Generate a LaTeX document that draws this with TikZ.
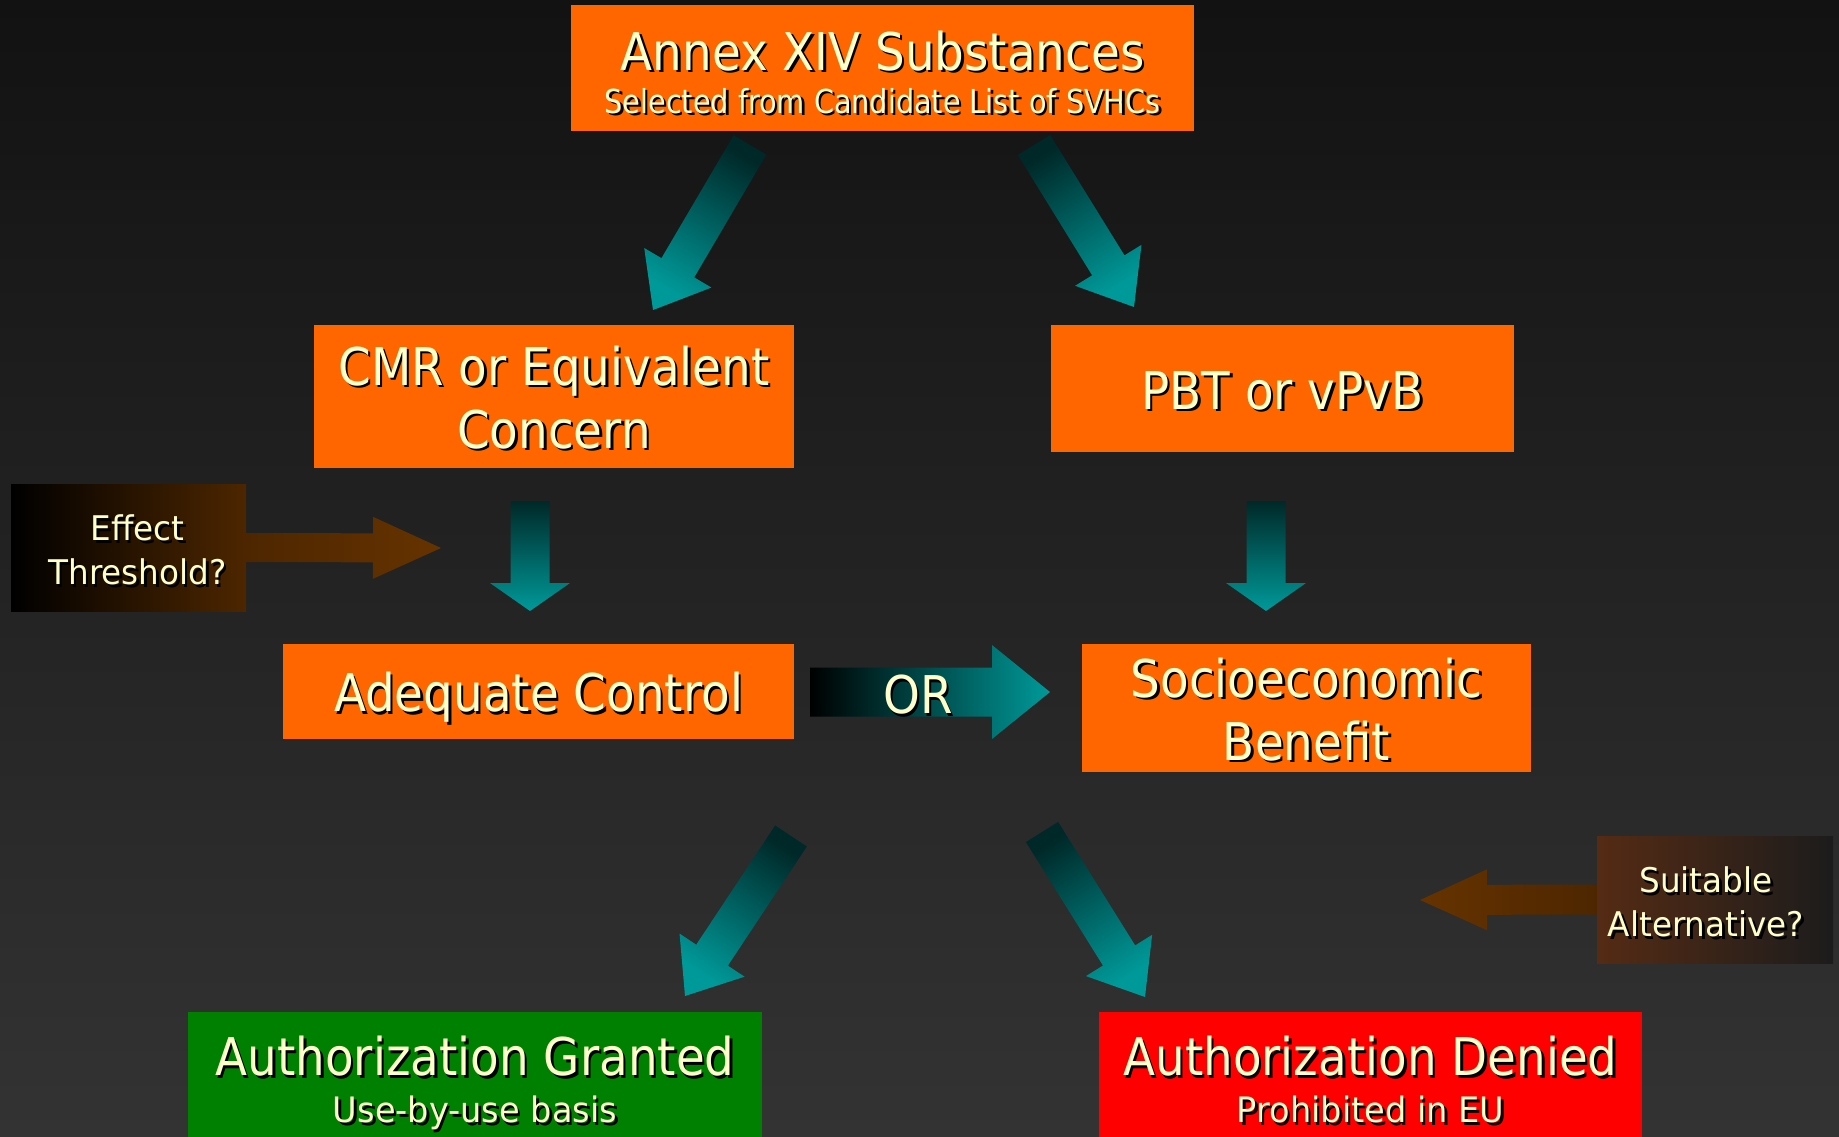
\documentclass[tikz,border=0pt]{standalone}
\usepackage{fontspec}
\setmainfont[FakeStretch=0.96]{DejaVu Sans}
\newfontfamily\condfont[FakeStretch=0.9]{DejaVu Sans}
\newfontfamily\narrowfont[FakeStretch=0.87]{DejaVu Sans}
\usetikzlibrary{calc}

\definecolor{bgtop}{RGB}{18,18,18}
\definecolor{bgbot}{RGB}{51,51,51}
\definecolor{boxorange}{RGB}{255,102,0}
\definecolor{boxgreen}{RGB}{0,128,0}
\definecolor{boxred}{RGB}{255,0,0}
\definecolor{cream}{RGB}{255,255,204}
\definecolor{tealdark}{RGB}{0,40,40}
\definecolor{teallight}{RGB}{0,153,153}
\definecolor{browndark}{RGB}{77,38,0}
\definecolor{brownlight}{RGB}{102,51,0}

% text with a small black drop shadow
\newcommand{\shtxt}[1]{\rlap{\kern2.5pt\raisebox{-2.5pt}{\color{black}#1}}#1}
\newcommand{\subfont}{\narrowfont\fontsize{33}{43}\selectfont}
\newcommand{\lowfont}{\rmfamily\fontsize{35}{45}\selectfont}
% struts and side padding to nudge the text inside the boxes
\newcommand{\tpad}[1]{\rule{0pt}{#1}}
\newcommand{\pad}{\hbox to 18pt{}}

% block arrow: style, tail, tip, half shaft, half head, head length
\newcommand{\blockarrow}[6]{%
  \coordinate (ab) at ($(#3)!#6!(#2)$);
  \shade[#1] ($(#2)!#4!90:(#3)$) -- ($(ab)!#4!90:(#3)$) -- ($(ab)!#5!90:(#3)$) -- (#3)
    -- ($(ab)!#5!-90:(#3)$) -- ($(ab)!#4!-90:(#3)$) -- ($(#2)!#4!-90:(#3)$) -- cycle;
}

\tikzset{
  bigtext/.style={font=\condfont\fontsize{52}{63}\selectfont},
  smalltext/.style={font=\fontsize{34}{44}\selectfont},
  obox/.style={rectangle, fill=boxorange, text=cream, align=center, inner sep=0pt, bigtext},
  gbox/.style={obox, fill=boxgreen},
  rbox/.style={obox, fill=boxred},
  tealarrow/.style={bottom color=tealdark, top color=teallight},
  brownarrow/.style={bottom color=browndark, top color=brownlight}
}

\begin{document}
\begin{tikzpicture}[x=1pt, y=-1pt]
    \useasboundingbox (0,0) rectangle (1839,1137);
    \shade[top color=bgtop, bottom color=bgbot] (0,0) rectangle (1839,1137);

    \node (annex)[obox, minimum width=623, minimum height=126] at (882.5, 68) {\tpad{50pt}\shtxt{Annex XIV Substances}\\[-20pt]{\subfont\shtxt{Selected from Candidate List of SVHCs}}};
    \node (cmr)[obox, minimum width=480, minimum height=143] at (554, 396.5) {\tpad{44pt}\shtxt{CMR or Equivalent}\\\shtxt{Concern}};
    \node (pbt)[obox, minimum width=463, minimum height=127] at (1282.5, 388.5) {\tpad{45pt}\shtxt{PBT or vPvB}};
    \node (control)[obox, minimum width=511, minimum height=95] at (538.5, 691.5) {\tpad{53.5pt}\shtxt{Adequate Control}};
    \node (benefit)[obox, minimum width=449, minimum height=128] at (1306.5, 708) {\tpad{44.5pt}\shtxt{Socioeconomic}\\\shtxt{Benefit}};
    \node (granted)[gbox, minimum width=574, minimum height=140] at (475, 1082) {\tpad{44pt}\shtxt{Authorization Granted}\\[-16pt]{\lowfont\shtxt{Use-by-use basis}}};
    \node (denied)[rbox, minimum width=543, minimum height=140] at (1370.5, 1082) {\tpad{44pt}\shtxt{Authorization Denied}\\[-16pt]{\lowfont\shtxt{Prohibited in EU\vphantom{y}}}};

    \node (effect)[rectangle, left color=black, right color=browndark, text=cream, align=center, smalltext, minimum width=235, minimum height=127] at (128.5, 547.5) {\pad\tpad{33pt}\shtxt{Effect}\\\pad\shtxt{Threshold?}};
    \node (suitable)[rectangle, left color={rgb,255:red,85;green,43;blue,20}, right color={rgb,255:red,28;green,28;blue,28}, text=cream, align=center, smalltext, minimum width=236, minimum height=127] at (1715, 899.5) {\tpad{33pt}\shtxt{Suitable}\pad\\\shtxt{Alternative?}\pad};

    \coordinate (a1s) at (750, 145);
    \coordinate (a1e) at (653, 310);
    \coordinate (a2s) at (1034, 145);
    \coordinate (a2e) at (1134, 307);
    \coordinate (a3s) at (530, 501);
    \coordinate (a3e) at (530, 611);
    \coordinate (a4s) at (1266, 501);
    \coordinate (a4e) at (1266, 611);
    \coordinate (ors) at (810, 692);
    \coordinate (ore) at (1050, 692);
    \coordinate (a5s) at (791, 836);
    \coordinate (a5e) at (685, 996);
    \coordinate (a6s) at (1042, 832);
    \coordinate (a6e) at (1145, 997);
    \coordinate (efe) at (441, 548);
    \coordinate (sue) at (1420, 900);

    \blockarrow{tealarrow, shading angle=149.5}{a1s}{a1e}{19pt}{39pt}{49pt}
    \blockarrow{tealarrow, shading angle=211.7}{a2s}{a2e}{19pt}{39pt}{49pt}
    \blockarrow{tealarrow, shading angle=180}{a3s}{a3e}{19.5pt}{40pt}{28pt}
    \blockarrow{tealarrow, shading angle=180}{a4s}{a4e}{19.5pt}{40pt}{28pt}
    \blockarrow{left color=black, right color=teallight}{ors}{ore}{24.5pt}{47pt}{58pt}
    \blockarrow{tealarrow, shading angle=146.5}{a5s}{a5e}{19pt}{39pt}{49pt}
    \blockarrow{tealarrow, shading angle=212}{a6s}{a6e}{19pt}{39pt}{49pt}
    \blockarrow{brownarrow, shading angle=-90}{effect.east}{efe}{14.5pt}{31pt}{68pt}
    \blockarrow{brownarrow, shading angle=90}{suitable.west}{sue}{15pt}{30.5pt}{67pt}

    \node (or)[text=cream, bigtext] at (918, 696) {\shtxt{OR}};

\end{tikzpicture}
\end{document}
